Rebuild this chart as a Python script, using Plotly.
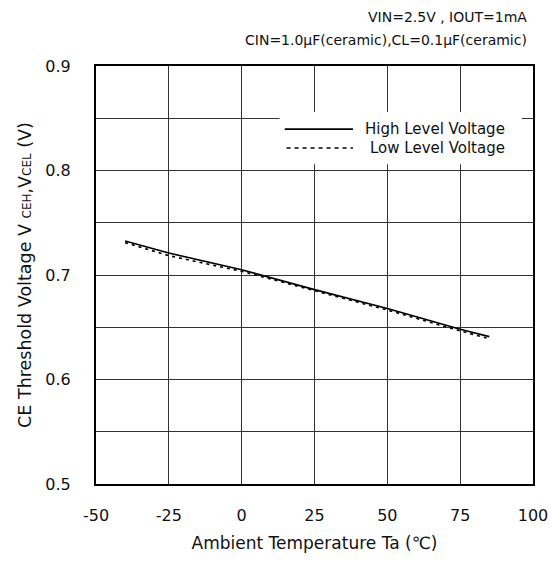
import plotly.graph_objects as go

temps = [-40, -25, 0, 25, 50, 75, 85]
high_level = [0.7325, 0.721, 0.705, 0.686, 0.668, 0.648, 0.641]
low_level = [0.731, 0.7185, 0.7035, 0.685, 0.6665, 0.6465, 0.639]

x_ticks = [-50, -25, 0, 25, 50, 75, 100]
y_ticks = [0.5, 0.6, 0.7, 0.8, 0.9]
y_grid = [0.55, 0.65, 0.75, 0.85]

FONT = "DejaVu Sans, Liberation Sans, Arial, sans-serif"

fig = go.Figure()
fig.add_trace(go.Scatter(x=temps, y=high_level, mode="lines", name="High Level Voltage",
                         line=dict(color="black", width=1.6), showlegend=False))
fig.add_trace(go.Scatter(x=temps, y=low_level, mode="lines", name="Low Level Voltage",
                         line=dict(color="black", width=1.6, dash="3px,4px"), showlegend=False))

fig.update_xaxes(range=[-50, 100], tickvals=x_ticks, ticktext=[str(v) for v in x_ticks],
                 showgrid=True, gridcolor="#333", gridwidth=1, zeroline=False,
                 showline=True, linecolor="black", linewidth=2, mirror=True,
                 ticks="", ticklabelstandoff=16, automargin=False,
                 tickfont=dict(family=FONT, size=16, color="#111"),
                 title=dict(text="Ambient Temperature Ta (℃)", font=dict(family=FONT, size=17, color="#111"), standoff=13))
fig.update_yaxes(range=[0.5, 0.9], tickvals=y_ticks, ticktext=["0.5", "0.6", "0.7", "0.8", "0.9"],
                 showgrid=True, gridcolor="#333", gridwidth=1, zeroline=False,
                 minor=dict(tickvals=y_grid, showgrid=True, gridcolor="#333", gridwidth=1),
                 showline=True, linecolor="black", linewidth=2, mirror=True,
                 ticks="", ticklabelstandoff=20, automargin=False,
                 tickfont=dict(family=FONT, size=16, color="#111"),
                 title=dict(text="CE Threshold Voltage V <span style='font-size:12px'>CEH</span>,V<span style='font-size:12px'>CEL</span> (V)",
                            font=dict(family=FONT, size=17.5, color="#111"), standoff=9))

# custom legend
shapes = [
    dict(type="rect", xref="paper", yref="paper", x0=0.42, x1=0.975, y0=0.765, y1=0.89,
         fillcolor="white", line=dict(width=0), layer="above"),
    dict(type="line", xref="paper", yref="paper", x0=0.432, x1=0.588, y0=0.849, y1=0.849,
         line=dict(color="black", width=1.6), layer="above"),
    dict(type="line", xref="paper", yref="paper", x0=0.436, x1=0.588, y0=0.804, y1=0.804,
         line=dict(color="black", width=1.6, dash="4px,4px"), layer="above"),
]
annotations = [
    dict(text="High Level Voltage", xref="paper", yref="paper", x=0.94, y=0.849, xanchor="right",
         yanchor="middle", showarrow=False, font=dict(family=FONT, size=15, color="#111")),
    dict(text="Low Level Voltage", xref="paper", yref="paper", x=0.94, y=0.804, xanchor="right",
         yanchor="middle", showarrow=False, font=dict(family=FONT, size=15, color="#111")),
    dict(text="VIN=2.5V , IOUT=1mA", xref="paper", yref="paper", x=0.99, y=1.117, xanchor="right",
         yanchor="middle", showarrow=False, font=dict(family=FONT, size=14, color="#111")),
    dict(text="CIN=1.0μF(ceramic),CL=0.1μF(ceramic)", xref="paper", yref="paper", x=0.99, y=1.062,
         xanchor="right", yanchor="middle", showarrow=False, font=dict(family=FONT, size=14, color="#111")),
]

fig.update_layout(width=551, height=563, plot_bgcolor="white", paper_bgcolor="white",
                  margin=dict(l=96, r=18, t=66, b=79), shapes=shapes, annotations=annotations,
                  showlegend=False)

fig.write_html("out.html", config={"displayModeBar": False},
               post_script="document.body.style.margin='0';document.body.style.overflow='hidden';")
